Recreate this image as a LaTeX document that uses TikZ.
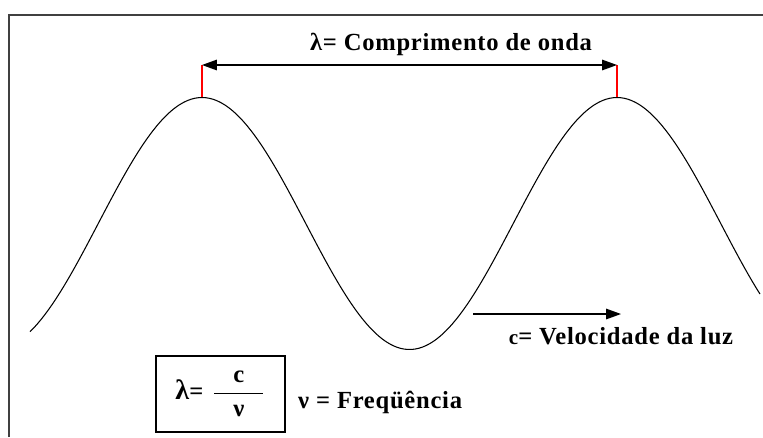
\documentclass[tikz,border=0pt]{standalone}
\usepackage{fontspec}
\usepackage{amsmath}
\setmainfont[LetterSpace=3]{Liberation Serif}
\usetikzlibrary{arrows.meta,positioning}

\begin{document}
\begin{tikzpicture}[x=0.02cm,y=-0.02cm,>={Triangle[length=8.5pt,width=6pt]},
    font=\bfseries\fontsize{14}{16}\selectfont,
    tick/.style={red,line width=0.6pt},
    guide/.style={line width=0.7pt}]
    \useasboundingbox (0,0) rectangle (763,437);
    % Frame
    \draw[black!75,line width=0.8pt] (9,437) -- (9,15) -- (763,15);
    % Wave
    \draw[line width=0.6pt] plot[domain=30:760,samples=200,smooth] (\x,{223.5-126*cos(0.86747*(\x-202))});
    % Wavelength
    \coordinate (peakA) at (202,97);
    \coordinate (peakB) at (617,97);
    \coordinate (topA) at (202,65);
    \coordinate (topB) at (617,65);
    \draw[tick] (peakA) -- (topA);
    \draw[tick] (peakB) -- (topB);
    \draw[guide,<->] (topA) -- (topB);
    \node (wavelength) at (451,44) {λ= Comprimento de onda};
    % Speed
    \coordinate (speedA) at (473,314);
    \coordinate (speedB) at (621,314);
    \draw[guide,->] (speedA) -- (speedB);
    \node (speed) at (621,336) {{\fontsize{12}{14}\selectfont c}= Velocidade da luz};
    % Formula
    \node[draw,line width=0.8pt,minimum width=2.58cm,minimum height=1.52cm] (formula) at (220.5,394)
        {{\fontsize{16}{16}\selectfont λ}=\hspace{5pt}$\dfrac{\hbox{c}}{\hbox to 28pt{\hfil ν\hfil}}$};
    \node[anchor=west] (freq) at (292,402) {ν = Freqüência};
\end{tikzpicture}
\end{document}
